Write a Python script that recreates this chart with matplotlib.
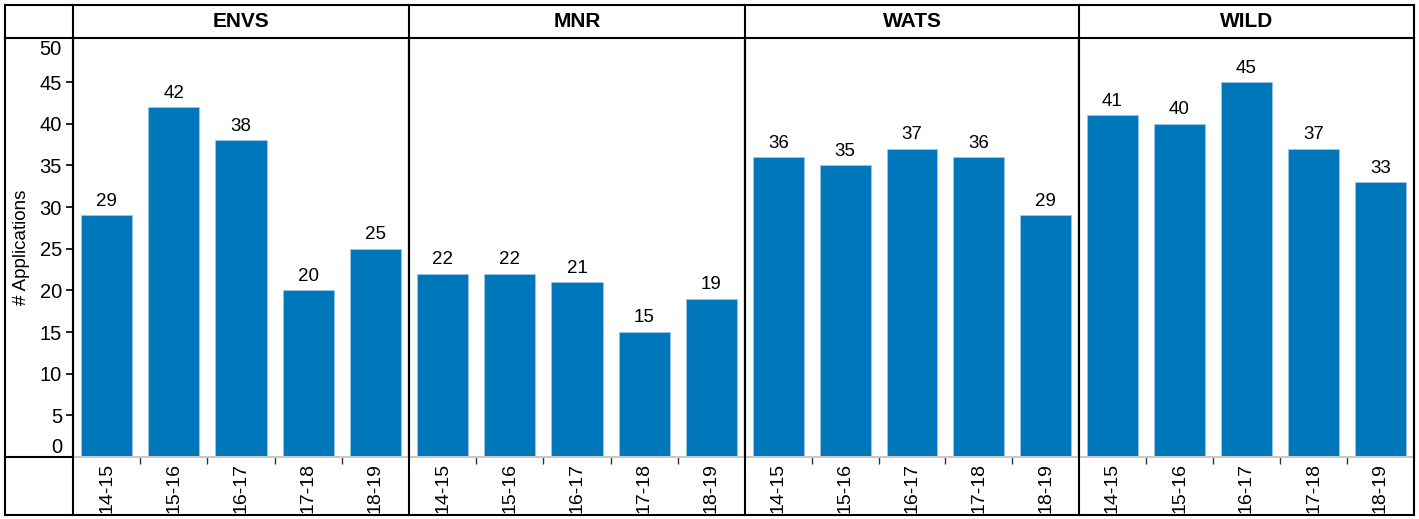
import matplotlib
matplotlib.use("Agg")
import matplotlib.pyplot as plt
from matplotlib.lines import Line2D

plt.rcParams['font.family'] = ['Liberation Sans', 'DejaVu Sans']

# data
programs = ['ENVS', 'MNR', 'WATS', 'WILD']
years = ['14-15', '15-16', '16-17', '17-18', '18-19']
envs = [29, 42, 38, 20, 25]
mnr = [22, 22, 21, 15, 19]
wats = [36, 35, 37, 36, 29]
wild = [41, 40, 45, 37, 33]
series = [envs, mnr, wats, wild]

W, H = 1419, 519
fig = plt.figure(figsize=(W / 100, H / 100), dpi=100)

# layout in pixels
edges = [73, 409, 745, 1079, 1414]
top_px, bot_px = 38, 457
frame_l, frame_t, frame_r, frame_b = 5, 5, 1414, 515


def fx(px):
    return px / W


def fy(py):
    return 1 - py / H


bar_color = '#0077BB'

for i, (name, vals) in enumerate(zip(programs, series)):
    ax = fig.add_axes([fx(edges[i]), fy(bot_px), fx(edges[i + 1] - edges[i]),
                       (bot_px - top_px) / H])
    xs = range(len(years))
    ax.bar(xs, vals, width=0.76, color=bar_color, edgecolor='#9fc8e4', linewidth=0.6)
    for x, v in zip(xs, vals):
        ax.annotate(str(v), (x, v), xytext=(0, 4), textcoords='offset points',
                    ha='center', va='bottom', fontsize=13.5)
    ax.set_xlim(-0.5, len(years) - 0.5)
    ax.set_ylim(0, 50.3)
    ax.set_xticks(list(xs))
    ax.set_xticklabels(years, rotation=90, fontsize=14, va='top')
    ax.set_xticks([0.5, 1.5, 2.5, 3.5], minor=True)
    ax.tick_params(axis='x', which='major', length=0, pad=4.5)
    ax.tick_params(axis='x', which='minor', length=5, width=1, color='#333333', direction='out')
    for s in ['left', 'right', 'top']:
        ax.spines[s].set_color('black')
        ax.spines[s].set_linewidth(1.5)
    ax.spines['bottom'].set_color('#c8c8c8')
    ax.spines['bottom'].set_linewidth(1.5)
    if i == 0:
        ax.set_yticks(range(0, 51, 5))
        ax.tick_params(axis='y', labelsize=14.5, length=5, width=1.2, pad=3)
        ticks = ax.yaxis.get_major_ticks()
        ticks[0].tick1line.set_visible(False)
        ticks[-1].tick1line.set_visible(False)
        labs = ax.get_yticklabels()
        labs[0].set_va('bottom')
        labs[-1].set_va('top')
    else:
        ax.set_yticks([])
    fig.text(fx((edges[i] + edges[i + 1]) / 2), fy((frame_t + top_px) / 2), name,
             ha='center', va='center', fontsize=15, fontweight='bold')

fig.text(fx(22), fy((top_px + bot_px) / 2), '# Applications', rotation=90,
         ha='center', va='center', fontsize=13.5)

# table frame lines
lines = [
    ((frame_l, frame_r), (frame_t, frame_t)),
    ((frame_l, frame_r), (frame_b, frame_b)),
    ((frame_l, frame_l), (frame_t, frame_b)),
    ((frame_r, frame_r), (frame_t, frame_b)),
    ((frame_l, edges[0]), (top_px, top_px)),
    ((frame_l, edges[0]), (bot_px, bot_px)),
]
for e in edges[:-1]:
    lines.append(((e, e), (frame_t, frame_b)))
for xp, yp in lines:
    fig.add_artist(Line2D([fx(v) for v in xp], [fy(v) for v in yp],
                          color='black', linewidth=1.5))

fig.savefig('out.png', dpi=100)
